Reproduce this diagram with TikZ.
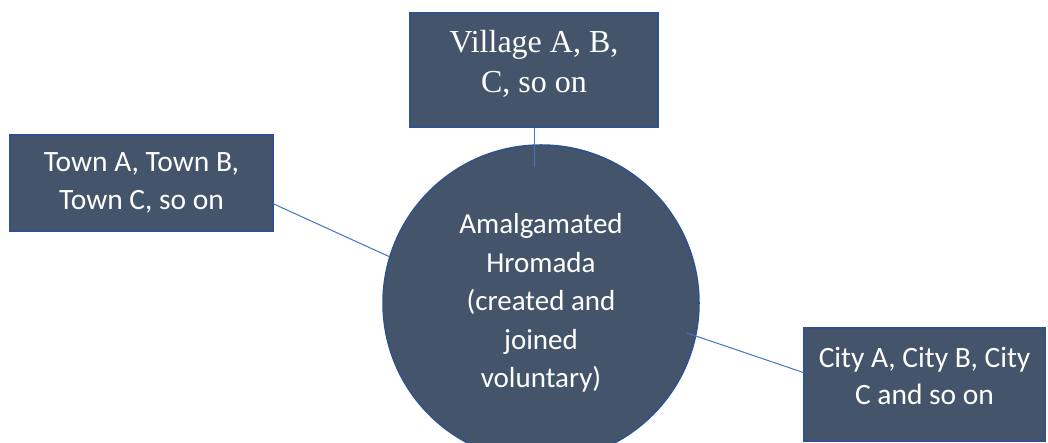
\documentclass[tikz,border=0pt]{standalone}
\usepackage{fontspec}
\setmainfont{Carlito}
\newfontfamily\villagefont{Liberation Serif}

\definecolor{slatefill}{HTML}{44546A}
\definecolor{slateline}{HTML}{2F528F}
\definecolor{linkblue}{HTML}{4472C4}

\begin{document}
\begin{tikzpicture}[x=1pt,y=1pt,
    unitbox/.style={draw=slateline, line width=1.5pt, fill=slatefill, text=white,
      align=center, inner sep=0pt},
    link/.style={draw=linkblue, line width=1pt}]
  % page frame
  \useasboundingbox (0,0) rectangle (1048,443);

  % central hromada
  \node[unitbox, circle, minimum size=316pt,
    font=\fontsize{29}{38.5}\selectfont] (hromada) at (541,140)
    {Amalgamated\\Hromada\\(created and\\joined\\voluntary)};

  % the three kinds of settlement
  \node[unitbox, rectangle, minimum width=248pt, minimum height=114pt,
    font=\villagefont\fontsize{32}{40}\selectfont] (village) at (534,373)
    {Village A, B,\\C, so on\rule[-18pt]{0pt}{1pt}};
  \node[unitbox, rectangle, minimum width=263pt, minimum height=96pt,
    font=\fontsize{29.5}{38}\selectfont] (town) at (141.5,260)
    {Town A, Town B,\\Town C, so on};
  \node[unitbox, rectangle, minimum width=241pt, minimum height=113pt,
    font=\fontsize{29.5}{37}\selectfont] (city) at (924.5,58.5)
    {City A, City B, City\\C and so on\rule[-18pt]{0pt}{1pt}};

  % loose ends inside the circle
  \coordinate (villageend) at (534,276);
  \coordinate (cityend) at (687,110);

  % links
  \draw[link] (village) -- (villageend);
  \draw[link] ([yshift=-21pt]town.east) -- (hromada.163);
  \draw[link] ([yshift=12pt]city.west) -- (cityend);
\end{tikzpicture}
\end{document}
